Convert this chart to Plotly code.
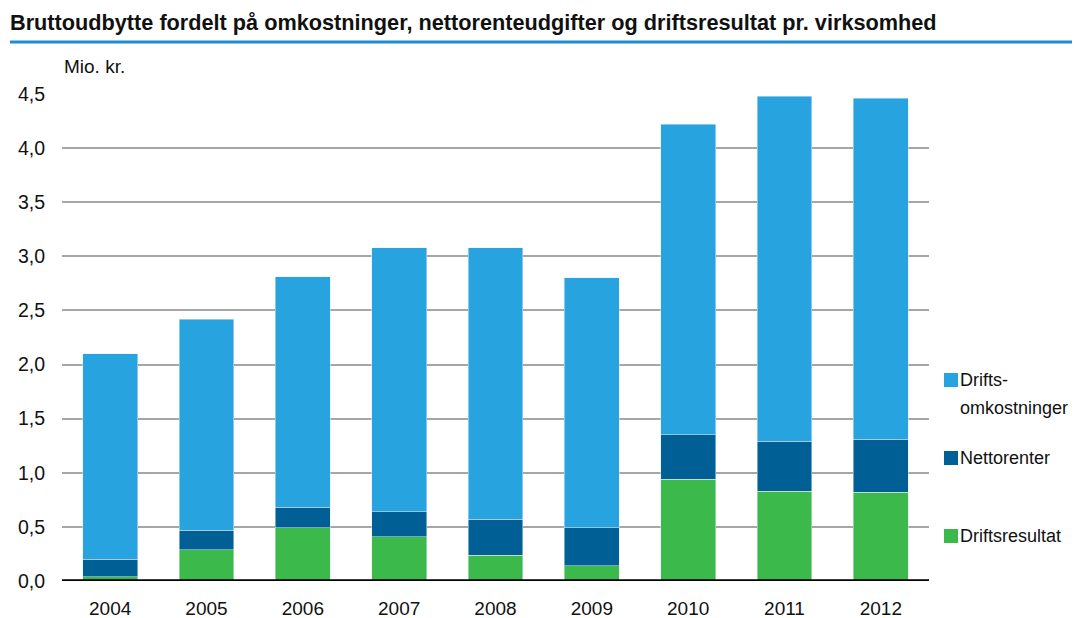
import plotly.graph_objects as go

# Data (Mio. kr. per virksomhed)
YEARS = ["2004", "2005", "2006", "2007", "2008", "2009", "2010", "2011", "2012"]
DRIFTSRESULTAT = [0.04, 0.29, 0.49, 0.41, 0.24, 0.14, 0.94, 0.83, 0.82]
NETTORENTER = [0.16, 0.18, 0.19, 0.23, 0.33, 0.35, 0.41, 0.46, 0.49]
DRIFTSOMK = [1.90, 1.95, 2.13, 2.44, 2.51, 2.31, 2.87, 3.19, 3.15]

TICKVALS = [0, 0.5, 1.0, 1.5, 2.0, 2.5, 3.0, 3.5, 4.0, 4.5]
TICKTEXT = ["0,0", "0,5", "1,0", "1,5", "2,0", "2,5", "3,0", "3,5", "4,0", "4,5"]

FONT = "Liberation Sans, Arial, sans-serif"
C_OMK, C_RENTER, C_RES = "#27a3df", "#005f94", "#3cb94b"

W, H = 1080, 618
L, R, T, B = 54, 159, 86, 45
PW, PH = W - L - R, H - T - B


def px(x):
    return (x - L) / PW


def py(y):
    return (H - B - y) / PH


fig = go.Figure()
fig.add_trace(go.Bar(x=YEARS, y=DRIFTSRESULTAT, name="Driftsresultat", marker_color=C_RES))
fig.add_trace(go.Bar(x=YEARS, y=NETTORENTER, name="Nettorenter", marker_color=C_RENTER))
fig.add_trace(go.Bar(x=YEARS, y=DRIFTSOMK, name="Driftsomkostninger", marker_color=C_OMK))

# hand-made legend (swatch + text) to match the irregular spacing
legend_items = [(C_OMK, ["Drifts-", "omkostninger"], 372), (C_RENTER, ["Nettorenter"], 450),
                (C_RES, ["Driftsresultat"], 528)]
shapes = [
    dict(type="line", xref="paper", yref="paper", x0=px(2), x1=px(W),
         y0=py(34), y1=py(34), line=dict(color="#1a8fd0", width=3)),
    dict(type="line", xref="paper", yref="y", x0=0, x1=1,
         y0=0, y1=0, line=dict(color="black", width=3.5)),
]
annotations = [
    dict(text="Mio. kr.", xref="paper", yref="paper", x=0, y=py(71),
         xanchor="left", yanchor="bottom", showarrow=False, font=dict(family=FONT, size=19)),
]
for color, lines, yc in legend_items:
    shapes.append(dict(type="rect", xref="paper", yref="paper", x0=px(936), x1=px(950),
                       y0=py(yc - 7), y1=py(yc + 7), fillcolor=color, line_width=0))
    for i, t in enumerate(lines):
        annotations.append(dict(text=t, xref="paper", yref="paper", x=px(950), y=py(yc + 28 * i),
                                xanchor="left", yanchor="middle", showarrow=False,
                                font=dict(family=FONT, size=18)))

fig.update_layout(
    barmode="stack",
    bargap=0.43,
    showlegend=False,
    width=W, height=H,
    margin=dict(l=L, r=R, t=T, b=B),
    plot_bgcolor="white", paper_bgcolor="white",
    font=dict(family=FONT, size=19, color="#111111"),
    title=dict(text="<b>Bruttoudbytte fordelt på omkostninger, nettorenteudgifter og driftsresultat pr. virksomhed</b>",
               x=2 / W, xanchor="left", y=1 - 14 / H, yanchor="middle",
               font=dict(family=FONT, size=21.7, color="#111111")),
    xaxis=dict(showgrid=False, ticks="", ticklabelstandoff=14, automargin=False,
               tickfont=dict(size=19)),
    yaxis=dict(range=[0, 4.5], tickvals=TICKVALS, ticktext=TICKTEXT,
               showgrid=True, gridcolor="#a6a6a6", gridwidth=2, automargin=False,
               zeroline=False, ticks="", ticklabelstandoff=16, tickfont=dict(size=19.5)),
    shapes=shapes,
    annotations=annotations,
)

fig.write_html("out.html")
